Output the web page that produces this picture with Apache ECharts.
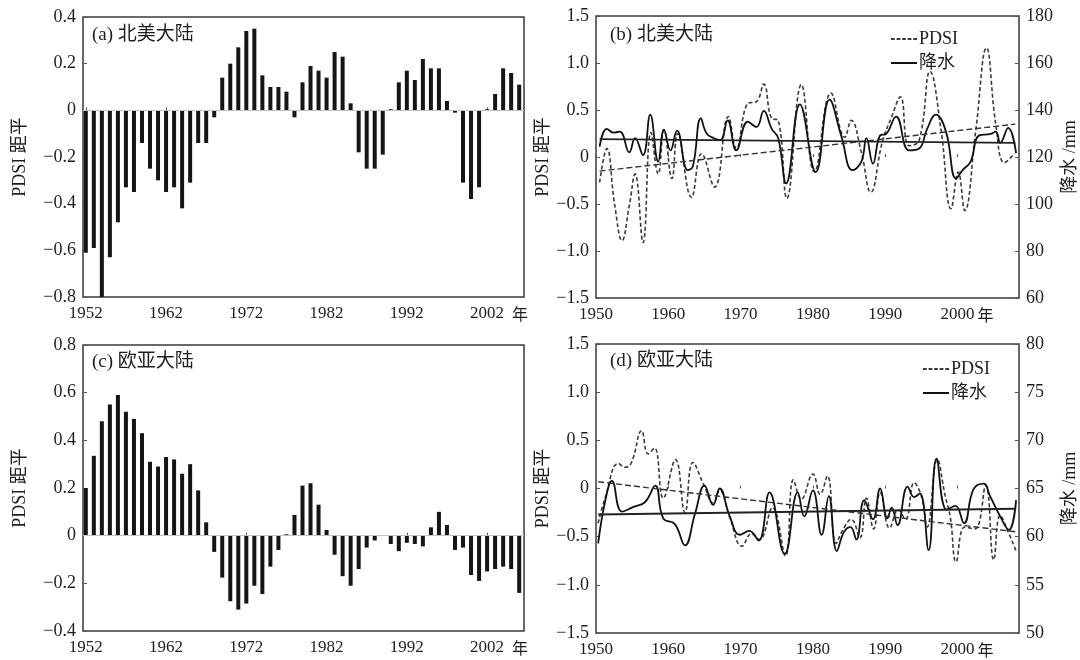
<!DOCTYPE html>
<html>
<head>
<meta charset="utf-8">
<script src="https://cdn.jsdelivr.net/npm/echarts@6/dist/echarts.min.js"></script>
<style>html,body{margin:0;padding:0;background:#fff;}#c{width:1080px;height:660px;}</style>
</head>
<body>
<div id="c"></div>
<script>
// ---------- DATA ----------
const barYears = [1952,1953,1954,1955,1956,1957,1958,1959,1960,1961,1962,1963,1964,1965,1966,1967,1968,1969,1970,1971,1972,1973,1974,1975,1976,1977,1978,1979,1980,1981,1982,1983,1984,1985,1986,1987,1988,1989,1990,1991,1992,1993,1994,1995,1996,1997,1998,1999,2000,2001,2002,2003,2004,2005,2006];
// (a) North America PDSI anomaly
const aPdsi = [-0.61,-0.59,-0.80,-0.63,-0.48,-0.33,-0.35,-0.14,-0.25,-0.30,
               -0.35,-0.33,-0.42,-0.31,-0.14,-0.14,-0.03,0.14,0.20,0.27,
               0.34,0.35,0.15,0.10,0.10,0.08,-0.03,0.12,0.19,0.17,
               0.14,0.25,0.23,0.03,-0.18,-0.25,-0.25,-0.19,0.005,0.12,
               0.17,0.13,0.22,0.18,0.18,0.04,-0.01,-0.31,-0.38,-0.33,
               0.005,0.07,0.18,0.16,0.11];
// (c) Eurasia PDSI anomaly
const cPdsi = [0.20,0.335,0.48,0.55,0.59,0.52,0.49,0.43,0.31,0.29,
               0.33,0.32,0.26,0.30,0.19,0.056,-0.068,-0.176,-0.275,-0.31,
               -0.285,-0.21,-0.245,-0.13,-0.06,0.006,0.087,0.21,0.22,0.13,
               0.024,-0.08,-0.17,-0.21,-0.14,-0.05,-0.02,0,-0.035,-0.065,
               -0.03,-0.035,-0.045,0.035,0.10,0.045,-0.06,-0.05,-0.165,-0.19,
               -0.15,-0.14,-0.13,-0.14,-0.24];

// (b) North America: PDSI curve (left axis) and precipitation curve (right axis, mm)
const bPdsiYears = [1950.5,1951.5,1952.6,1953.6,1954.6,1955.4,1956.5,1957.6,1958.6,1959.4,1960.5,1961.3,1963.2,1964.6,1966.4,1968.3,1969.4,1971.0,1972.2,1973.2,1974.3,1975.2,1976.4,1978.4,1980.2,1982.5,1984.4,1985.3,1986.7,1988.0,1989.6,1990.9,1992.1,1993.3,1994.7,1996.2,1997.7,1999.1,2000.1,2001.0,2002.5,2004.0,2005.3,2006.5,2007.9];
const bPdsi      = [-0.27,0.09,-0.52,-0.89,-0.52,-0.18,-0.91,0.26,-0.18,0.29,-0.23,0.25,-0.43,0.035,-0.32,0.43,0.09,0.57,0.59,0.775,0.41,0.39,-0.44,0.77,-0.16,0.68,0.21,0.39,0.05,-0.375,0.16,0.43,0.64,0.12,0.18,0.91,0.30,-0.55,-0.16,-0.57,0.27,1.16,0.34,-0.06,0.04];
const bRainYears = [1950.5,1951.5,1952.4,1953.3,1954.6,1955.4,1956.5,1957.5,1958.6,1959.4,1960.3,1961.2,1962.7,1963.4,1964.5,1965.3,1966.3,1967.2,1968.2,1969.4,1971.0,1972.2,1973.2,1974.3,1975.2,1976.3,1978.2,1980.4,1982.3,1983.9,1985.5,1986.7,1987.4,1988.3,1989.3,1990.1,1991.5,1993.3,1994.7,1995.8,1997.0,1998.4,1999.8,2000.7,2001.8,2003.0,2004.6,2005.3,2005.9,2007.0,2008.1];
const bRain      = [124.4,132,130.4,130.8,122,128,120.8,138,118,131.6,122.8,131.2,114.4,116,136.4,130,128,127.2,135.6,122.8,135,132.8,139.6,132,128,108.8,142.4,113.6,144.4,129.2,114.4,118,128,117.2,129.2,129.8,137.2,122.8,123.6,132,138,130.8,110.8,114.4,118,129.2,129.8,130.8,126,132.4,121.6];
const bTrendYears = [1950.5, 2008.0];
const bPdsiTrend  = [-0.15, 0.35];
const bRainTrend  = [127.6, 126.0];

// (d) Eurasia
const dPdsiYears = [1950.3,1951.3,1953.1,1954.0,1954.9,1956.3,1957.2,1958.1,1959.3,1961.0,1962.3,1963.4,1964.9,1966.2,1967.1,1968.5,1970.2,1971.5,1972.6,1974.4,1976.2,1977.3,1978.4,1980.0,1981.0,1982.0,1983.2,1984.2,1985.3,1986.5,1987.4,1988.4,1989.3,1990.6,1991.8,1992.8,1994.0,1995.0,1995.8,1997.2,1998.3,1999.0,1999.8,2001.0,2002.4,2003.9,2005.0,2005.9,2007.0,2008.1];
const dPdsi      = [-0.36,-0.09,0.26,0.22,0.27,0.60,0.36,0.42,-0.10,0.30,-0.25,0.27,0.04,-0.15,-0.02,-0.30,-0.60,-0.47,-0.53,-0.20,-0.70,0.09,-0.11,0.15,-0.06,0.13,-0.57,-0.42,-0.32,-0.51,-0.10,-0.42,-0.04,-0.41,-0.22,-0.32,0.06,-0.08,-0.40,0.30,-0.08,-0.30,-0.76,-0.40,-0.42,0.03,-0.74,-0.28,-0.45,-0.65];
const dRainYears = [1950.3,1951.3,1952.2,1953.6,1955.2,1956.8,1958.2,1959.3,1960.9,1962.3,1963.7,1965.0,1966.2,1967.1,1968.5,1969.9,1971.2,1972.5,1974.0,1976.1,1977.9,1978.8,1980.0,1981.2,1982.2,1983.3,1984.3,1985.2,1986.0,1987.1,1988.3,1989.3,1990.3,1990.9,1991.7,1993.1,1994.0,1994.8,1996.0,1997.1,1998.5,1999.7,2000.9,2002.2,2003.6,2004.5,2005.9,2007.1,2008.1];
const dRain      = [59.3,63.8,65.8,62.6,63.1,63.6,65.3,61.9,61.3,59.1,62.4,65.3,63.3,65.0,62.1,60.2,60.6,59.6,64.6,58.2,64.6,62.1,64.8,60.2,64.2,58.5,60.5,61.0,59.7,63.8,61.8,65.0,61.9,63.0,61.2,65.2,64.1,64.5,58.6,68.1,62.8,63.2,61.4,64.9,65.5,64.2,62.1,60.7,63.8];
const dTrendYears = [1950.3, 2008.1];
const dPdsiTrend  = [0.07, -0.45];
const dRainTrend  = [62.3, 62.9];

const barTicks = [1952,1962,1972,1982,1992,2002];

// ---------- CHART ----------
const SERIF = '"Liberation Serif","Times New Roman","Noto Sans CJK SC",serif';
const CJK = '"Noto Sans CJK SC","Liberation Serif",sans-serif';
const INK = '#1e1e1e';
const pair = (xs, ys) => xs.map((x, i) => [x, ys[i]]);
const fmtNum = v => {
  if (Math.abs(v) < 1e-9) return '0';
  const s = (Math.round(v * 10) / 10).toFixed(1);
  return s.replace('-', '\u2212');
};
const fmtInt = v => String(Math.round(v));

function xAxisBar(gi) {
  return {
    type: 'value', gridIndex: gi, min: 1951.65, max: 2006.6,
    axisLine: {show: false},
    splitLine: {show: false},
    axisTick: {show: true, inside: true, length: 3, customValues: barTicks, lineStyle: {color: '#555'}},
    axisLabel: {
      customValues: barTicks, margin: 8, fontSize: 17, fontFamily: SERIF, color: INK,
      formatter: v => v === 2002 ? '{p|年}2002{c|年}' : String(v),
      rich: {
        p: {color: 'rgba(0,0,0,0)', fontFamily: CJK, fontSize: 16, padding: [0, 8, 0, 0]},
        c: {color: INK, fontFamily: CJK, fontSize: 16, padding: [0, 0, 0, 8]}
      }
    }
  };
}
function xAxisLine(gi) {
  return {
    type: 'value', gridIndex: gi, min: 1950, max: 2008.5, interval: 10,
    axisLine: {show: false},
    splitLine: {show: false},
    axisTick: {show: true, inside: true, length: 3, lineStyle: {color: '#555'}},
    axisLabel: {
      margin: 8, fontSize: 17, fontFamily: SERIF, color: INK, showMaxLabel: false,
      formatter: v => v === 2000 ? '{p|年}2000{c|年}' : String(v),
      rich: {
        p: {color: 'rgba(0,0,0,0)', fontFamily: CJK, fontSize: 16, padding: [0, 3, 0, 0]},
        c: {color: INK, fontFamily: CJK, fontSize: 16, padding: [0, 0, 0, 3]}
      }
    }
  };
}
function yAxis(gi, min, max, interval, pos, name, gap, fmt) {
  return {
    type: 'value', gridIndex: gi, min, max, interval, position: pos,
    name, nameLocation: 'middle', nameGap: gap, nameRotate: 90,
    nameTextStyle: {fontSize: 18, fontFamily: SERIF, color: INK},
    axisLine: {show: false},
    splitLine: {show: false},
    axisTick: {show: true, inside: true, length: 4, lineStyle: {color: '#555'}},
    axisLabel: {fontSize: 18, fontFamily: SERIF, color: INK, margin: 7, formatter: fmt}
  };
}

const frame = {show: true, borderColor: '#3a3a3a', borderWidth: 1.5, backgroundColor: '#fff'};
const zeroLine = {
  silent: true, symbol: 'none', label: {show: false},
  lineStyle: {color: '#b9c3d6', width: 1, type: 'solid'},
  data: [{yAxis: 0}]
};
const dashedStyle = {color: '#3a3a3a', width: 1.6, type: [4, 2.5]};
const solidStyle = {color: '#111', width: 1.8, type: 'solid'};

const DASH_ICON = 'path://M0,0h4v2h-4z M6,0h4v2h-4z M12,0h4v2h-4z M18,0h4v2h-4z M24,0h4v2h-4z';
const SOLID_ICON = 'path://M0,0h26v2h-26z';
function legendAt(left, top) {
  return {
    left, top, orient: 'vertical', selectedMode: false,
    data: [{name: 'PDSI', icon: DASH_ICON}, {name: '降水', icon: SOLID_ICON}],
    itemWidth: 26, itemHeight: 2, itemGap: 6,
    textStyle: {fontSize: 18, fontFamily: SERIF, color: INK, padding: [0, 0, 0, -3]}
  };
}

const option = {
  animation: false,
  backgroundColor: '#fff',
  grid: [
    Object.assign({left: 83, top: 17, width: 441, height: 280}, frame),
    Object.assign({left: 596, top: 16, width: 423, height: 282}, frame),
    Object.assign({left: 83, top: 345, width: 441, height: 286}, frame),
    Object.assign({left: 596, top: 344, width: 423, height: 289}, frame)
  ],
  xAxis: [xAxisBar(0), xAxisLine(1), xAxisBar(2), xAxisLine(3)],
  yAxis: [
    yAxis(0, -0.8, 0.4, 0.2, 'left', 'PDSI 距平', 54, fmtNum),
    yAxis(1, -1.5, 1.5, 0.5, 'left', 'PDSI 距平', 40, fmtNum),
    yAxis(1, 60, 180, 20, 'right', '降水 /mm', 42, fmtInt),
    yAxis(2, -0.4, 0.8, 0.2, 'left', 'PDSI 距平', 54, fmtNum),
    yAxis(3, -1.5, 1.5, 0.5, 'left', 'PDSI 距平', 40, fmtNum),
    yAxis(3, 50, 80, 5, 'right', '降水 /mm', 42, fmtInt)
  ],
  legend: [legendAt(886, 25), legendAt(918, 355)],
  graphic: [
    {type: 'text', left: 92, top: 26, style: {text: '(a) 北美大陆', font: '19px ' + SERIF, fill: INK}},
    {type: 'text', left: 610, top: 26, style: {text: '(b) 北美大陆', font: '19px ' + SERIF, fill: INK}},
    {type: 'text', left: 92, top: 353, style: {text: '(c) 欧亚大陆', font: '19px ' + SERIF, fill: INK}},
    {type: 'text', left: 610, top: 352, style: {text: '(d) 欧亚大陆', font: '19px ' + SERIF, fill: INK}}
  ],
  series: [
    {type: 'bar', name: 'a', xAxisIndex: 0, yAxisIndex: 0, barWidth: 4,
     itemStyle: {color: '#151515'}, data: pair(barYears, aPdsi), markLine: zeroLine},
    {type: 'bar', name: 'c', xAxisIndex: 2, yAxisIndex: 3, barWidth: 4,
     itemStyle: {color: '#151515'}, data: pair(barYears, cPdsi), markLine: zeroLine},

    {type: 'line', name: 'PDSI', xAxisIndex: 1, yAxisIndex: 1, smooth: 0.45, symbol: 'none',
     lineStyle: dashedStyle, itemStyle: {color: '#3a3a3a'}, data: pair(bPdsiYears, bPdsi)},
    {type: 'line', name: '降水', xAxisIndex: 1, yAxisIndex: 2, smooth: 0.45, symbol: 'none',
     lineStyle: solidStyle, itemStyle: {color: '#111'}, data: pair(bRainYears, bRain)},
    {type: 'line', name: 'bPdsiTrend', xAxisIndex: 1, yAxisIndex: 1, symbol: 'none',
     lineStyle: {color: '#333', width: 1.4, type: [6, 3]}, data: pair(bTrendYears, bPdsiTrend)},
    {type: 'line', name: 'bRainTrend', xAxisIndex: 1, yAxisIndex: 2, symbol: 'none',
     lineStyle: {color: '#222', width: 1.8}, data: pair(bTrendYears, bRainTrend)},

    {type: 'line', name: 'PDSI', xAxisIndex: 3, yAxisIndex: 4, smooth: 0.45, symbol: 'none',
     lineStyle: dashedStyle, itemStyle: {color: '#3a3a3a'}, data: pair(dPdsiYears, dPdsi)},
    {type: 'line', name: '降水', xAxisIndex: 3, yAxisIndex: 5, smooth: 0.45, symbol: 'none',
     lineStyle: solidStyle, itemStyle: {color: '#111'}, data: pair(dRainYears, dRain)},
    {type: 'line', name: 'dPdsiTrend', xAxisIndex: 3, yAxisIndex: 4, symbol: 'none',
     lineStyle: {color: '#333', width: 1.4, type: [6, 3]}, data: pair(dTrendYears, dPdsiTrend)},
    {type: 'line', name: 'dRainTrend', xAxisIndex: 3, yAxisIndex: 5, symbol: 'none',
     lineStyle: {color: '#222', width: 1.8}, data: pair(dTrendYears, dRainTrend)}
  ]
};
const chart = echarts.init(document.getElementById('c'), null, {renderer: 'canvas'});
chart.setOption(option);
</script>
</body>
</html>
